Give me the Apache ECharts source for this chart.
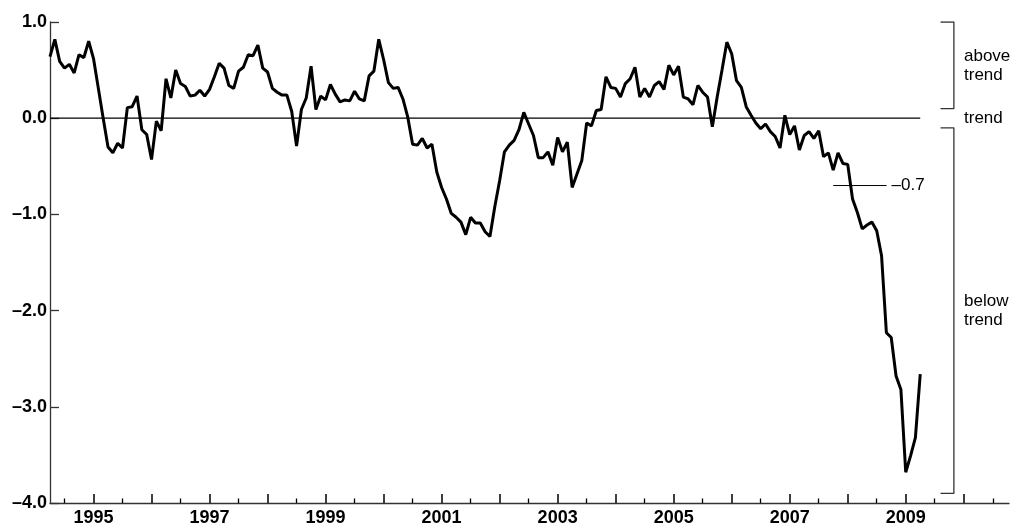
<!DOCTYPE html>
<html>
<head>
<meta charset="utf-8">
<script src="https://cdn.jsdelivr.net/npm/echarts@6.0.0/dist/echarts.min.js"></script>
<style>
  html, body { margin: 0; padding: 0; background: #fff; }
  #chart { width: 1010px; height: 525px; }
</style>
</head>
<body>
<div id="chart"></div>
<script>
// Monthly index values, April 1994 through April 2009
const startYear = 1994;
const startMonth = 4;
const values1994 = [0.64, 0.82, 0.59, 0.52, 0.56, 0.47, 0.66, 0.63, 0.80];
const values1995 = [0.62, 0.31, 0.00, -0.30, -0.36, -0.26, -0.31, 0.11, 0.12, 0.23, -0.12, -0.17];
const values1996 = [-0.43, -0.03, -0.13, 0.41, 0.21, 0.50, 0.36, 0.33, 0.23, 0.24, 0.29, 0.23];
const values1997 = [0.30, 0.43, 0.57, 0.52, 0.34, 0.31, 0.49, 0.53, 0.66, 0.65, 0.76, 0.52];
const values1998 = [0.48, 0.31, 0.27, 0.24, 0.24, 0.07, -0.29, 0.09, 0.21, 0.54, 0.09, 0.23];
const values1999 = [0.19, 0.35, 0.25, 0.17, 0.19, 0.18, 0.28, 0.20, 0.18, 0.44, 0.49, 0.82];
const values2000 = [0.61, 0.37, 0.31, 0.32, 0.20, 0.01, -0.27, -0.28, -0.21, -0.31, -0.27, -0.56];
const values2001 = [-0.72, -0.84, -0.99, -1.03, -1.08, -1.21, -1.03, -1.09, -1.09, -1.18, -1.23, -0.92];
const values2002 = [-0.65, -0.35, -0.28, -0.23, -0.12, 0.06, -0.06, -0.18, -0.41, -0.41, -0.35, -0.49];
const values2003 = [-0.20, -0.35, -0.25, -0.72, -0.58, -0.44, -0.05, -0.08, 0.08, 0.09, 0.43, 0.32];
const values2004 = [0.31, 0.22, 0.36, 0.41, 0.53, 0.22, 0.31, 0.22, 0.34, 0.38, 0.30, 0.55];
const values2005 = [0.45, 0.54, 0.22, 0.20, 0.14, 0.34, 0.27, 0.22, -0.09, 0.22, 0.50, 0.79];
const values2006 = [0.67, 0.39, 0.32, 0.12, 0.03, -0.05, -0.11, -0.06, -0.14, -0.19, -0.31, 0.03];
const values2007 = [-0.17, -0.08, -0.33, -0.18, -0.14, -0.21, -0.13, -0.40, -0.36, -0.54, -0.36, -0.47];
const values2008 = [-0.48, -0.84, -0.98, -1.15, -1.11, -1.08, -1.17, -1.43, -2.23, -2.28, -2.68, -2.82];
const values2009 = [-3.68, -3.51, -3.32, -2.66];

// Axis ticks and labels
const yearTicks = [1995, 1996, 1997, 1998, 1999, 2000, 2001, 2002, 2003, 2004, 2005, 2006, 2007, 2008, 2009, 2010];
const halfYearTicks = [1994.5, 1995.5, 1996.5, 1997.5, 1998.5, 1999.5, 2000.5, 2001.5, 2002.5, 2003.5, 2004.5, 2005.5, 2006.5, 2007.5, 2008.5, 2009.5, 2010.5];
const yearLabels = [1995, 1997, 1999, 2001, 2003, 2005, 2007, 2009];

// Reference levels
const trendLevel = 0;
const thresholdLevel = -0.7;
const thresholdSpan = [2007.75, 2008.67];
const aboveRange = [1.0, 0.1];
const belowRange = [-0.1, -3.9];
const bracketX = [2009.60, 2009.83];

const allValues = [].concat(values1994, values1995, values1996, values1997, values1998,
  values1999, values2000, values2001, values2002, values2003, values2004, values2005,
  values2006, values2007, values2008, values2009);

const seriesData = allValues.map((v, i) => {
  const m = startMonth - 1 + i;
  return [startYear + m / 12, v];
});
const firstX = seriesData[0][0];
const lastX = seriesData[seriesData.length - 1][0];

const FONT = '"Liberation Sans", Arial, Helvetica, sans-serif';
const AX = '#333';
const dash = v => (v < 0 ? '\u2013' : '') + Math.abs(v).toFixed(1);

const chart = echarts.init(document.getElementById('chart'));
chart.setOption({
  animation: false,
  backgroundColor: '#fff',
  grid: { left: 50, right: 1, top: 22, bottom: 22, containLabel: false, outerBoundsMode: 'none' },
  xAxis: [
    {
      type: 'value', min: 1994.25, max: 2010.78,
      axisLine: { show: true, onZero: false, lineStyle: { color: AX, width: 1.3 } },
      axisTick: { show: true, inside: true, length: 9, customValues: yearTicks, lineStyle: { color: '#000', width: 1.5 } },
      axisLabel: {
        show: true, customValues: yearLabels, formatter: v => String(Math.round(v)),
        fontFamily: FONT, fontWeight: 'bold', fontSize: 18, color: '#000', margin: 6
      },
      splitLine: { show: false }
    },
    {
      type: 'value', min: 1994.25, max: 2010.78, position: 'bottom',
      axisLine: { show: false, onZero: false },
      axisTick: { show: true, inside: true, length: 4.5, customValues: halfYearTicks, lineStyle: { color: '#000', width: 1.3 } },
      axisLabel: { show: false },
      splitLine: { show: false }
    }
  ],
  yAxis: {
    type: 'value', min: -4, max: 1, interval: 1,
    axisLine: { show: true, onZero: false, lineStyle: { color: AX, width: 1.3 } },
    axisTick: { show: true, inside: true, length: 9, lineStyle: { color: AX, width: 1.3 } },
    axisLabel: { formatter: dash, fontFamily: FONT, fontWeight: 'bold', fontSize: 18, color: '#000', margin: 3 },
    splitLine: { show: false }
  },
  series: [
    {
      name: 'trend', type: 'line', silent: true, symbol: 'none',
      data: [[firstX, trendLevel], [lastX, trendLevel]],
      lineStyle: { color: '#000', width: 1.3 }
    },
    {
      name: 'threshold', type: 'line', silent: true, symbol: 'none',
      data: [[thresholdSpan[0], thresholdLevel], [thresholdSpan[1], thresholdLevel]],
      lineStyle: { color: '#000', width: 1 },
      endLabel: { show: true, formatter: () => dash(thresholdLevel), fontFamily: FONT, fontSize: 17, color: '#000', distance: 5 }
    },
    {
      name: 'index', type: 'line', symbol: 'none', showSymbol: false,
      data: seriesData,
      lineStyle: { color: '#000', width: 3 }
    },
    {
      name: 'above', type: 'line', silent: true, symbol: 'none',
      data: [[bracketX[0], aboveRange[0]], [bracketX[1], aboveRange[0]], [bracketX[1], aboveRange[1]], [bracketX[0], aboveRange[1]]],
      lineStyle: { color: AX, width: 1.3 }
    },
    {
      name: 'below', type: 'line', silent: true, symbol: 'none',
      data: [[bracketX[0], belowRange[0]], [bracketX[1], belowRange[0]], [bracketX[1], belowRange[1]], [bracketX[0], belowRange[1]]],
      lineStyle: { color: AX, width: 1.3 }
    }
  ],
  graphic: [
    { type: 'text', left: 964, top: 47, style: { text: 'above\ntrend', font: '17px ' + FONT, fill: '#000', lineHeight: 19 } },
    { type: 'text', left: 964, top: 109, style: { text: 'trend', font: '17px ' + FONT, fill: '#000', lineHeight: 19 } },
    { type: 'text', left: 964, top: 292, style: { text: 'below\ntrend', font: '17px ' + FONT, fill: '#000', lineHeight: 19 } }
  ]
});
</script>
</body>
</html>
